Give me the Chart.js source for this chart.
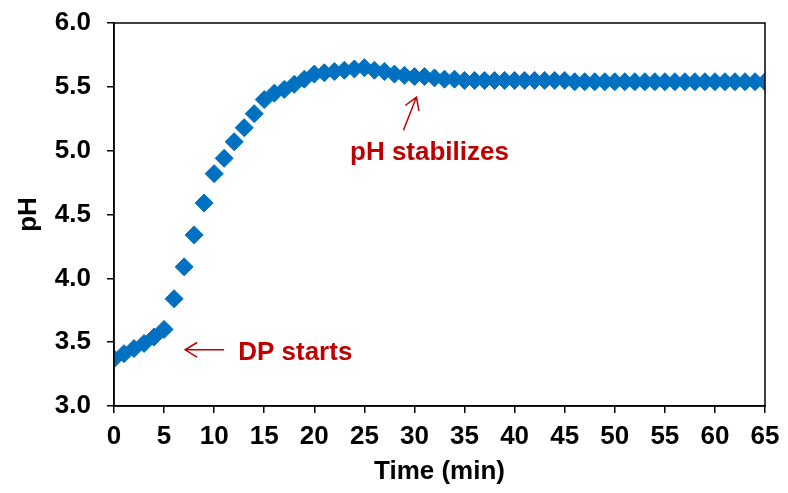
<!DOCTYPE html>
<html>
<head>
<meta charset="utf-8">
<script src="https://cdn.jsdelivr.net/npm/chart.js@4"></script>
<style>
  html, body { margin: 0; padding: 0; background: #fff; }
  #wrap { width: 788px; height: 493px; }
</style>
</head>
<body>
<div id="wrap"><canvas id="phChart"></canvas></div>
<script>
// time in minutes, one reading per minute
const timeMin = [
  0, 1, 2, 3, 4, 5, 6, 7, 8, 9, 10, 11, 12, 13, 14, 15, 16, 17, 18, 19, 20,
  21, 22, 23, 24, 25, 26, 27, 28, 29, 30, 31, 32, 33, 34, 35, 36, 37, 38, 39, 40,
  41, 42, 43, 44, 45, 46, 47, 48, 49, 50, 51, 52, 53, 54, 55, 56, 57, 58, 59, 60,
  61, 62, 63, 64, 65
];
const phValues = [
  3.37, 3.41, 3.45, 3.49, 3.54, 3.60, 3.84, 4.09, 4.34, 4.59, 4.82,
  4.94, 5.07, 5.18, 5.29, 5.40, 5.45, 5.48, 5.52, 5.56, 5.60,
  5.61, 5.62, 5.63, 5.64, 5.65, 5.63, 5.62, 5.60, 5.59, 5.58,
  5.58, 5.57, 5.56, 5.56, 5.55, 5.55, 5.55, 5.55, 5.55, 5.55,
  5.55, 5.55, 5.55, 5.55, 5.55, 5.54, 5.54, 5.54, 5.54, 5.54,
  5.54, 5.54, 5.54, 5.54, 5.54, 5.54, 5.54, 5.54, 5.54, 5.54,
  5.54, 5.54, 5.54, 5.54, 5.54
];
const xTicks = [0, 5, 10, 15, 20, 25, 30, 35, 40, 45, 50, 55, 60, 65];
const yTicks = [3.0, 3.5, 4.0, 4.5, 5.0, 5.5, 6.0];

// annotations in data units: text anchor, arrow tail -> arrow head
const notes = [
  { text: 'DP starts', tx: 12.4, ty: 3.415, align: 'left', from: [11.0, 3.44], to: [7.1, 3.44] },
  { text: 'pH stabilizes', tx: 31.5, ty: 4.98, align: 'center', from: [28.9, 5.16], to: [30.2, 5.42] }
];

const blue = '#0070C0';
const darkRed = '#C00000';
const fontFamily = 'Arial, "Liberation Sans", sans-serif';

const frameAndNotes = {
  id: 'frameAndNotes',
  afterDraw(chart) {
    const { ctx, chartArea: a, scales: { x, y } } = chart;
    ctx.save();
    ctx.strokeStyle = '#000';
    ctx.lineWidth = 1.5;
    ctx.strokeRect(a.left, a.top, a.right - a.left, a.bottom - a.top);

    notes.forEach(n => {
      const x0 = x.getPixelForValue(n.from[0]), y0 = y.getPixelForValue(n.from[1]);
      const x1 = x.getPixelForValue(n.to[0]), y1 = y.getPixelForValue(n.to[1]);
      const ang = Math.atan2(y1 - y0, x1 - x0);
      ctx.strokeStyle = darkRed;
      ctx.lineWidth = 1.5;
      ctx.beginPath();
      ctx.moveTo(x0, y0);
      ctx.lineTo(x1, y1);
      ctx.moveTo(x1 - 14 * Math.cos(ang - 0.55), y1 - 14 * Math.sin(ang - 0.55));
      ctx.lineTo(x1, y1);
      ctx.lineTo(x1 - 14 * Math.cos(ang + 0.55), y1 - 14 * Math.sin(ang + 0.55));
      ctx.stroke();

      ctx.fillStyle = darkRed;
      ctx.font = 'bold 26px ' + fontFamily;
      ctx.textAlign = n.align;
      ctx.textBaseline = 'middle';
      ctx.fillText(n.text, x.getPixelForValue(n.tx), y.getPixelForValue(n.ty));
    });
    ctx.restore();
  }
};

new Chart(document.getElementById('phChart'), {
  type: 'scatter',
  data: {
    datasets: [{
      data: timeMin.map((t, i) => ({ x: t, y: phValues[i] })),
      pointStyle: 'rectRot',
      pointRadius: 9,
      pointHoverRadius: 9,
      backgroundColor: blue,
      borderColor: blue,
      borderWidth: 1
    }]
  },
  options: {
    responsive: true,
    maintainAspectRatio: false,
    animation: false,
    layout: { padding: { top: 23, right: 23, left: 0, bottom: 0 } },
    plugins: { legend: { display: false }, tooltip: { enabled: false } },
    scales: {
      x: {
        type: 'linear',
        min: 0,
        max: 65,
        afterBuildTicks: s => { s.ticks = xTicks.map(v => ({ value: v })); },
        afterFit: s => { s.height = 87; s.paddingLeft = 0; s.paddingRight = 0; },
        grid: { drawOnChartArea: false, tickLength: 7, color: '#000', lineWidth: 1.5 },
        border: { color: '#000', width: 1.5 },
        ticks: {
          color: '#000',
          padding: 8,
          font: { family: fontFamily, size: 26, weight: 'bold' },
          callback: v => String(v)
        },
        title: {
          display: true,
          text: 'Time (min)',
          color: '#000',
          padding: { top: 0, bottom: 6 },
          font: { family: fontFamily, size: 26, weight: 'bold' }
        }
      },
      y: {
        min: 3,
        max: 6,
        afterBuildTicks: s => { s.ticks = yTicks.map(v => ({ value: v })); },
        afterFit: s => { s.width = 114; s.paddingTop = 0; s.paddingBottom = 0; },
        grid: { drawOnChartArea: false, tickLength: 7, color: '#000', lineWidth: 1.5 },
        border: { color: '#000', width: 1.5 },
        ticks: {
          color: '#000',
          padding: 16,
          font: { family: fontFamily, size: 26, weight: 'bold' },
          callback: v => Number(v).toFixed(1)
        },
        title: {
          display: true,
          text: 'pH',
          color: '#000',
          padding: { top: 13, bottom: 0 },
          font: { family: fontFamily, size: 26, weight: 'bold' }
        }
      }
    }
  },
  plugins: [frameAndNotes]
});
</script>
</body>
</html>
